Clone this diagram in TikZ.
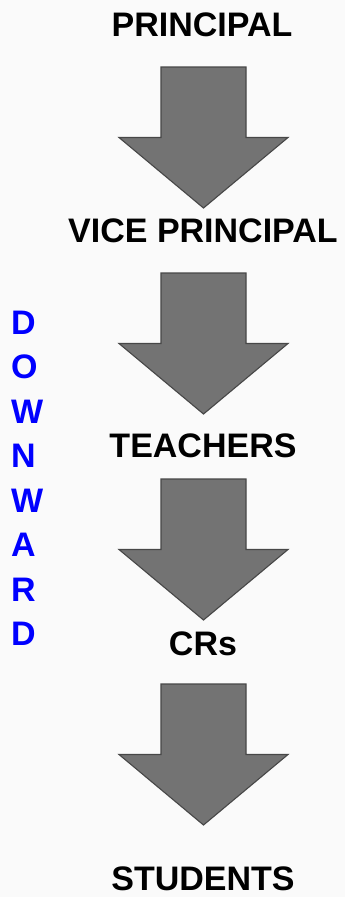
\documentclass[tikz,border=0pt]{standalone}
\usepackage{fontspec}
\setmainfont{Liberation Sans}
\usetikzlibrary{positioning}
\definecolor{bggray}{HTML}{FAFAFA}
\definecolor{arrowfill}{HTML}{737373}
\definecolor{arrowline}{HTML}{474747}
\definecolor{sideblue}{HTML}{0000FF}

\tikzset{
  level/.style={anchor=base, font=\fontsize{34}{40}\selectfont\bfseries, text=black, inner sep=0pt},
  sideletter/.style={anchor=base west, font=\fontsize{34}{40}\selectfont\bfseries, text=sideblue, inner sep=0pt},
  downarrow/.style={fill=arrowfill, draw=arrowline, line width=1.1pt, line join=miter}
}

\begin{document}
\begin{tikzpicture}[x=1pt, y=-1pt]

% Background
\fill[bggray] (0,0) rectangle (345,897);
\useasboundingbox (0,0) rectangle (345,897);

% Levels (baselines)
\node[level] (principal) at (202,36) {PRINCIPAL};
\node[level] (vice) at (203,242) {VICE PRINCIPAL};
\node[level] (teachers) at (203,457) {TEACHERS};
\node[level] (crs) at (203,655) {CRs};
\node[level] (students) at (203,890) {STUDENTS};

% Block arrows: top of shaft, shaft 161--246, head 119--288
\foreach \t in {67,273,479,684} {
  \draw[downarrow] (161,\t) -- (246,\t) -- (246,\t+70.5) -- (288,\t+70.5)
    -- (203.5,\t+141) -- (119,\t+70.5) -- (161,\t+70.5) -- cycle;
}

% Side word, one letter per line
\foreach \ch [count=\i from 0] in {D,O,W,N,W,A,R,D} {
  \node[sideletter] (side\i) at (11,334+44.5*\i) {\ch};
}

\end{tikzpicture}
\end{document}
